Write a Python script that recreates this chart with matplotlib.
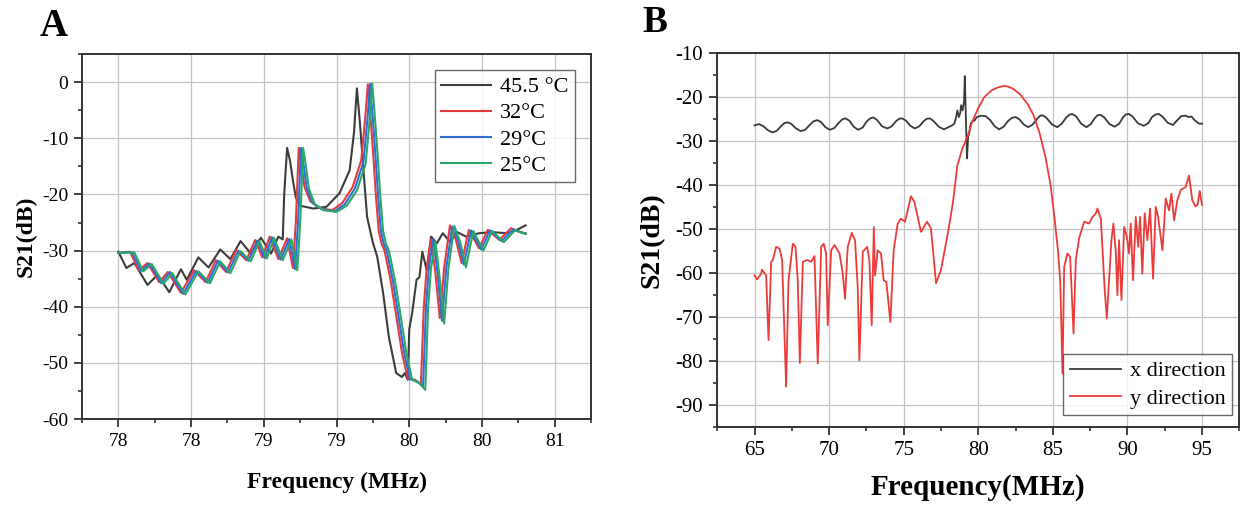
import matplotlib
matplotlib.use("Agg")
import matplotlib.pyplot as plt
from matplotlib.ticker import AutoMinorLocator, MultipleLocator

plt.rcParams['font.family'] = ['Liberation Serif', 'DejaVu Serif']
plt.rcParams['axes.unicode_minus'] = False

# ---- panel A data: S21 vs frequency at four temperatures ----
a_tick_pos = [78.0, 78.5, 79.0, 79.5, 80.0, 80.5, 81.0]
a_tick_lbl = ["78", "78", "79", "79", "80", "80", "81"]

f_45 = [78.00, 78.055, 78.11, 78.20, 78.27, 78.35, 78.43, 78.47, 78.55, 78.62, 78.70, 78.77,
        78.84, 78.91, 78.98, 79.05, 79.10, 79.13, 79.14, 79.16, 79.18, 79.20, 79.22, 79.25,
        79.34, 79.43, 79.52, 79.59, 79.62, 79.64, 79.66, 79.68, 79.71, 79.75, 79.78, 79.82,
        79.86, 79.91, 79.95, 79.97, 79.99, 80.00, 80.02, 80.05, 80.07, 80.09, 80.12, 80.15,
        80.19, 80.23, 80.28, 80.33, 80.39, 80.48, 80.57, 80.67, 80.74, 80.80]
s_45 = [-30.2, -33.1, -32.2, -36.1, -34.3, -37.4, -33.3, -35.2, -31.2, -33.0, -29.8, -31.5,
        -28.3, -30.5, -27.7, -30.5, -27.5, -28.0, -20.0, -11.7, -14.0, -17.5, -20.5, -22.0,
        -22.5, -22.2, -19.8, -15.7, -9.0, -1.1, -7.0, -13.9, -24.0, -28.6, -31.1, -37.5,
        -45.4, -51.8, -52.5, -51.8, -53.0, -44.0, -41.1, -35.2, -34.7, -30.2, -33.5, -27.5,
        -28.7, -26.9, -28.4, -26.7, -27.5, -26.9, -26.7, -26.9, -26.3, -25.5]

f_32 = [78.00, 78.08, 78.14, 78.20, 78.28, 78.34, 78.43, 78.52, 78.60, 78.67, 78.74, 78.81,
        78.88, 78.94, 78.99, 79.04, 79.10, 79.16, 79.20, 79.22, 79.24, 79.26, 79.28, 79.32,
        79.38, 79.47, 79.54, 79.61, 79.67, 79.70, 79.715, 79.73, 79.75, 79.77, 79.79, 79.81,
        79.83, 79.87, 79.91, 79.95, 79.99, 80.04, 80.08, 80.10, 80.12, 80.15, 80.18, 80.21,
        80.24, 80.28, 80.32, 80.36, 80.41, 80.48, 80.54, 80.62, 80.70, 80.75, 80.80]
s_32 = [-30.4, -30.2, -33.5, -32.2, -35.6, -33.8, -37.5, -33.5, -35.6, -31.7, -33.8, -29.9,
        -31.7, -28.1, -31.2, -27.5, -31.5, -27.8, -33.1, -25.0, -11.7, -15.0, -18.7, -21.2,
        -22.4, -22.8, -21.5, -18.7, -13.9, -5.5, -0.4, -5.0, -12.0, -20.0, -26.5, -28.8,
        -30.0, -35.0, -41.5, -48.2, -52.8, -53.0, -53.8, -40.0, -33.0, -28.0, -34.0, -42.0,
        -33.0, -25.5, -28.0, -32.2, -26.3, -29.6, -26.3, -28.1, -26.0, -26.6, -26.9]

f_29 = [78.00, 78.095, 78.155, 78.215, 78.295, 78.355, 78.445, 78.535, 78.615, 78.685, 78.755,
        78.825, 78.895, 78.955, 79.005, 79.055, 79.115, 79.175, 79.215, 79.235, 79.255, 79.275,
        79.295, 79.335, 79.395, 79.485, 79.555, 79.625, 79.685, 79.715, 79.73, 79.745, 79.765,
        79.785, 79.805, 79.825, 79.845, 79.885, 79.925, 79.965, 80.005, 80.055, 80.095, 80.115,
        80.135, 80.165, 80.195, 80.225, 80.255, 80.295, 80.335, 80.375, 80.425, 80.495, 80.555,
        80.635, 80.715, 80.765, 80.80]
s_29 = [-30.4, -30.3, -33.6, -32.3, -35.8, -33.8, -37.7, -33.6, -35.7, -31.8, -33.9,
        -30.0, -31.8, -28.2, -31.3, -27.6, -31.6, -27.9, -33.3, -25.0, -11.7, -15.0,
        -18.9, -21.5, -22.6, -23.0, -21.8, -19.0, -14.2, -5.8, -0.3, -5.0, -12.0,
        -20.0, -26.5, -28.8, -30.0, -35.0, -41.5, -48.2, -52.9, -53.3, -54.2, -40.0,
        -33.0, -28.0, -34.0, -42.5, -33.0, -25.7, -28.2, -32.5, -26.4, -29.8, -26.4,
        -28.3, -26.2, -26.7, -27.0]

f_25 = [78.00, 78.11, 78.17, 78.23, 78.31, 78.37, 78.46, 78.55, 78.63, 78.70, 78.77, 78.84,
        78.91, 78.97, 79.02, 79.07, 79.13, 79.19, 79.23, 79.25, 79.27, 79.29, 79.31, 79.35,
        79.41, 79.50, 79.57, 79.64, 79.70, 79.73, 79.745, 79.76, 79.78, 79.80, 79.82, 79.84,
        79.86, 79.90, 79.94, 79.98, 80.02, 80.07, 80.11, 80.13, 80.15, 80.18, 80.21, 80.24,
        80.27, 80.31, 80.35, 80.39, 80.44, 80.51, 80.57, 80.65, 80.73, 80.77, 80.80]
s_25 = [-30.4, -30.3, -33.7, -32.4, -35.9, -34.0, -37.8, -33.7, -35.8, -31.9, -34.0, -30.1,
        -31.9, -28.3, -31.4, -27.7, -31.7, -28.0, -33.5, -25.0, -11.7, -15.0, -19.0, -21.7,
        -22.8, -23.1, -22.0, -19.3, -14.5, -6.0, -0.2, -5.0, -12.0, -20.0, -26.5, -28.8,
        -30.0, -35.0, -41.5, -48.2, -53.0, -53.6, -54.8, -40.0, -33.0, -28.5, -35.0, -43.0,
        -33.0, -25.6, -28.5, -33.0, -26.5, -30.0, -26.5, -28.5, -26.3, -26.8, -27.0]

# ---- panel B data: x and y direction ----
fx = [65.0, 65.3, 65.6, 65.9, 66.2, 66.5, 66.8, 67.0, 67.2, 67.45, 67.75, 68.1, 68.4, 68.7,
      68.95, 69.2, 69.45, 69.75, 70.05, 70.35, 70.65, 70.9, 71.1, 71.35, 71.65, 71.95, 72.25,
      72.5, 72.75, 72.95, 73.2, 73.55, 73.9, 74.2, 74.5, 74.7, 74.9, 75.15, 75.45, 75.75, 76.05,
      76.35, 76.55, 76.75, 77.0, 77.35, 77.7, 78.0, 78.2, 78.4, 78.5, 78.6, 78.7, 78.8, 78.85,
      78.95, 79.05, 79.1, 79.15, 79.18, 79.25, 79.32, 79.4, 79.5, 79.6, 79.75, 79.9, 80.2, 80.5,
      80.8, 81.1, 81.4, 81.7, 82.0, 82.25, 82.5, 82.75, 83.05, 83.35, 83.65, 83.95, 84.15, 84.3,
      84.55, 84.95, 85.3, 85.6, 85.9, 86.1, 86.3, 86.55, 86.9, 87.25, 87.55, 87.8, 88.0, 88.2,
      88.45, 88.8, 89.15, 89.45, 89.7, 89.9, 90.1, 90.35, 90.7, 91.1, 91.4, 91.65, 91.9, 92.1,
      92.35, 92.7, 93.05, 93.3, 93.6, 93.9, 94.1, 94.3, 94.5, 94.8, 95.0]
sx = [-26.4, -26.1, -26.6, -27.5, -28.0, -27.6, -26.5, -25.9, -25.7, -26.0, -27.0, -27.7, -27.4, -26.3,
      -25.5, -25.2, -25.6, -26.8, -27.4, -27.0, -25.8, -25.0, -24.8, -25.3, -26.7, -27.4, -26.9,
      -25.6, -24.8, -24.6, -25.1, -26.6, -27.1, -26.6, -25.4, -24.9, -24.8, -25.3, -26.5, -27.1, -26.6,
      -25.4, -24.9, -24.8, -25.4, -26.7, -27.3, -26.8, -26.5, -26.0, -24.8, -23.0, -24.5, -23.5, -21.8,
      -23.0, -21.0, -15.2, -22.0, -25.9, -33.9, -29.0, -28.0, -26.0, -25.5, -25.3, -24.5, -24.2, -24.3,
      -25.2, -26.6, -27.3, -26.7, -25.4, -24.7, -24.5, -25.0, -26.2, -26.8, -26.2, -24.9, -24.2, -24.1,
      -24.6, -26.2, -26.8, -26.0, -24.6, -24.0, -23.8, -24.3, -26.0, -26.8, -26.1, -24.8, -24.1, -24.0,
      -24.6, -26.1, -26.7, -26.0, -24.6, -23.9, -23.8, -24.4, -25.9, -26.5, -25.9, -24.5, -23.9, -23.8,
      -24.4, -25.8, -26.3, -25.4, -24.3, -24.2, -24.5, -24.4, -25.2, -26.0, -26.0]

fy = [65.0, 65.18, 65.45, 65.5, 65.78, 65.94, 66.05, 66.12, 66.23, 66.45, 66.68, 66.85, 67.12,
      67.28, 67.57, 67.75, 67.9, 68.04, 68.24, 68.53, 68.8, 69.02, 69.24, 69.47, 69.64, 69.8,
      69.91, 70.14, 70.36, 70.7, 70.92, 71.07, 71.25, 71.52, 71.74, 71.92, 72.03, 72.26, 72.55,
      72.7, 72.86, 73.0, 73.08, 73.26, 73.48, 73.66, 73.84, 74.11, 74.33, 74.6, 74.82, 75.09,
      75.49, 75.72, 76.16, 76.56, 76.83, 77.17, 77.5, 78.0, 78.3, 78.6, 78.95, 79.3, 79.6, 80.0,
      80.4, 80.9, 81.3, 81.75, 82.0, 82.3, 82.8, 83.3, 83.7, 84.1, 84.5, 84.85, 85.1, 85.35,
      85.5, 85.65, 85.76, 85.98, 86.16, 86.39, 86.54, 86.76, 87.1, 87.43, 87.66, 87.88, 87.99,
      88.22, 88.48, 88.62, 88.77, 88.93, 89.06, 89.22, 89.33, 89.44, 89.6, 89.78, 89.96, 90.11,
      90.22, 90.38, 90.56, 90.72, 90.85, 91.0, 91.16, 91.34, 91.52, 91.72, 91.9, 92.06, 92.35,
      92.57, 92.79, 92.95, 93.13, 93.35, 93.57, 93.91, 94.13, 94.35, 94.55, 94.7, 94.85, 95.0]
sy = [-60.5, -61.4, -60.1, -59.2, -60.5, -75.2, -64.6, -57.4, -57.0, -54.0, -54.4, -57.0, -85.8,
      -61.6, -53.3, -54.0, -61.6, -80.4, -57.4, -57.0, -57.4, -56.1, -80.5, -54.0, -53.3, -55.5,
      -71.8, -54.8, -53.6, -55.5, -60.1, -65.8, -54.0, -50.8, -52.5, -63.1, -79.8, -55.1, -54.0,
      -57.0, -71.8, -49.5, -60.5, -54.8, -55.5, -61.6, -62.0, -71.1, -54.8, -48.7, -47.6, -48.3,
      -42.5, -43.8, -50.6, -48.3, -49.8, -62.3, -59.3, -50.2, -44.0, -35.5, -31.5, -28.8, -25.5, -22.5,
      -20.0, -18.4, -17.8, -17.4, -17.6, -18.0, -19.3, -21.5, -24.0, -28.0, -33.5, -40.0, -47.0, -55.0,
      -62.0, -82.8, -58.6, -55.5, -56.3, -73.7, -57.0, -52.1, -48.3, -48.7, -47.2, -46.4, -45.3,
      -47.6, -63.9, -70.3, -61.6, -52.5, -48.7, -55.1, -65.0, -52.5, -66.1, -49.5, -51.7, -55.5,
      -48.7, -61.6, -47.2, -54.0, -47.2, -60.1, -46.4, -52.5, -45.3, -61.2, -44.9, -47.2, -54.8,
      -43.0, -45.7, -41.9, -48.0, -43.4, -41.1, -40.4, -37.8, -43.4, -44.8, -44.5, -41.3, -44.5]

fig = plt.figure(figsize=(12.43, 5.08), dpi=100)

def style_axes(ax, tick_size):
    ax.grid(True, which='major', color='#c4c4c4', lw=0.9)
    ax.set_axisbelow(True)
    for sp in ax.spines.values():
        sp.set_linewidth(1.4)
        sp.set_color('#333333')
    ax.tick_params(which='major', direction='out', length=6, width=1.3, labelsize=tick_size,
                   pad=4, top=False, right=False, color='#333333')
    ax.tick_params(which='minor', direction='out', length=3, width=1.2, top=False, right=False,
                   color='#333333')
    ax.xaxis.set_minor_locator(AutoMinorLocator(2))
    ax.yaxis.set_minor_locator(AutoMinorLocator(2))

# ---- panel A ----
axa = fig.add_axes([0.066, 0.175, 0.4095, 0.7185])
axa.plot(f_45, s_45, color='#3c3c3c', lw=1.5, label='45.5 °C')
axa.plot(f_32, s_32, color='#e53a3f', lw=1.5, label='32°C')
axa.plot(f_29, s_29, color='#2f6fd8', lw=1.5, label='29°C')
axa.plot(f_25, s_25, color='#2aa866', lw=1.5, label='25°C')
axa.set_xlim(77.75, 81.25)
axa.set_ylim(-60, 5)
axa.set_xticks(a_tick_pos)
axa.set_xticklabels(a_tick_lbl)
axa.yaxis.set_major_locator(MultipleLocator(10))
style_axes(axa, 14)
axa.set_xlabel('Frequency (MHz)', fontsize=17, fontweight='bold')
axa.set_ylabel('S21(dB)', fontsize=17, fontweight='bold')
axa.xaxis.set_label_coords(0.5, -0.145)
axa.yaxis.set_label_coords(-0.09, 0.5)
leg = axa.legend(loc='upper right', bbox_to_anchor=(0.969, 0.956), fontsize=16,
                 handlelength=2.25, frameon=True, fancybox=False, borderpad=0.3,
                 labelspacing=0.25, handletextpad=0.4, borderaxespad=0)
leg.get_frame().set_edgecolor('#444444')
leg.get_frame().set_linewidth(1.0)
fig.text(0.032, 0.929, 'A', fontsize=28, fontweight='bold', va='baseline')

# ---- panel B ----
axb = fig.add_axes([0.577, 0.159, 0.42, 0.7362])
axb.plot(fx, sx, color='#3a3a3a', lw=1.3, label='x direction')
axb.plot(fy, sy, color='#ec3b3b', lw=1.3, label='y direction')
axb.set_xlim(62.5, 97.5)
axb.set_ylim(-95, -10)
axb.xaxis.set_major_locator(MultipleLocator(5))
axb.yaxis.set_major_locator(MultipleLocator(10))
style_axes(axb, 15)
axb.set_xlabel('Frequency(MHz)', fontsize=21, fontweight='bold')
axb.set_ylabel('S21(dB)', fontsize=20, fontweight='bold')
axb.xaxis.set_label_coords(0.5, -0.125)
axb.yaxis.set_label_coords(-0.1, 0.5)
legb = axb.legend(loc='lower right', bbox_to_anchor=(0.987, 0.032), fontsize=16,
                  handlelength=2.3, frameon=True, fancybox=False, borderpad=0.3,
                  labelspacing=0.3, handletextpad=0.4, borderaxespad=0)
legb.get_frame().set_edgecolor('#444444')
legb.get_frame().set_linewidth(1.0)
fig.text(0.517, 0.937, 'B', fontsize=27, fontweight='bold', va='baseline')

fig.savefig('out.png', dpi=100)
